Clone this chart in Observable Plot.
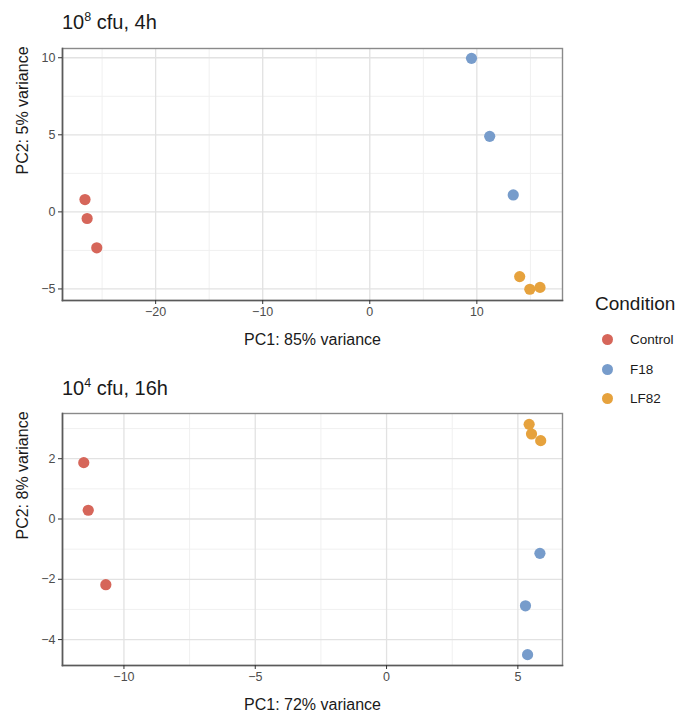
<!DOCTYPE html>
<html>
<head>
<meta charset="utf-8">
<script src="https://cdn.jsdelivr.net/npm/d3@7"></script>
<script src="https://cdn.jsdelivr.net/npm/@observablehq/plot@0.6"></script>
<style>
  html, body { margin: 0; padding: 0; background: #fff; }
  #root { position: relative; width: 691px; height: 720px; font-family: "Liberation Sans", Arial, Helvetica, sans-serif; color: #1a1a1a; }
  .title { position: absolute; left: 62px; font-size: 20px; line-height: 1; white-space: nowrap; }
  .title sup { font-size: 12.5px; vertical-align: 0; position: relative; top: -8px; }
  .panel { position: absolute; left: 0; }
  #legend { position: absolute; left: 595px; top: 293px; }
  #legend .lt { font-size: 19px; margin-bottom: 10px; }
  #legend .item { display: flex; align-items: center; height: 29.5px; font-size: 13.5px; }
  #legend .sw { width: 11px; height: 11px; border-radius: 50%; margin-left: 7px; margin-right: 17px; }
</style>
</head>
<body>
<div id="root"></div>
<script>
// ---- data ----
const conditions = ["Control", "F18", "LF82"];
const conditionColors = ["#d6665a", "#779ccb", "#e6a23d"];

// Panel 1: 10^8 cfu, 4h
const p1Condition = ["Control", "Control", "Control", "F18", "F18", "F18", "LF82", "LF82", "LF82"];
const p1PC1 = [-26.6, -26.4, -25.5, 9.5, 11.2, 13.4, 14.0, 14.95, 15.9];
const p1PC2 = [0.8, -0.43, -2.33, 9.96, 4.9, 1.1, -4.2, -5.02, -4.9];
const p1XTicks = [-20, -10, 0, 10];
const p1YTicks = [-5, 0, 5, 10];
const p1XMinor = [-25, -15, -5, 5, 15];
const p1YMinor = [-2.5, 2.5, 7.5];

// Panel 2: 10^4 cfu, 16h
const p2Condition = ["Control", "Control", "Control", "F18", "F18", "F18", "LF82", "LF82", "LF82"];
const p2PC1 = [-11.53, -11.36, -10.69, 5.84, 5.29, 5.37, 5.43, 5.52, 5.87];
const p2PC2 = [1.87, 0.29, -2.18, -1.14, -2.88, -4.5, 3.14, 2.82, 2.6];
const p2XTicks = [-10, -5, 0, 5];
const p2YTicks = [-4, -2, 0, 2];
const p2XMinor = [-7.5, -2.5, 2.5];
const p2YMinor = [-3, -1, 1, 3];

const font = '"Liberation Sans", Arial, Helvetica, sans-serif';

function panel(o) {
  const data = o.pc1.map((v, i) => ({pc1: v, pc2: o.pc2[i], condition: o.cond[i]}));
  return Plot.plot({
    width: 575, height: 318,
    marginTop: 8, marginBottom: 58, marginLeft: 62, marginRight: 13,
    style: {fontFamily: font, background: "transparent", overflow: "visible"},
    x: {domain: o.xDomain},
    y: {domain: o.yDomain},
    color: {domain: conditions, range: conditionColors},
    marks: [
      Plot.gridX(o.xMinor, {stroke: "#f0f0f0", strokeOpacity: 1, strokeWidth: 1}),
      Plot.gridY(o.yMinor, {stroke: "#f0f0f0", strokeOpacity: 1, strokeWidth: 1}),
      Plot.gridX(o.xTicks, {stroke: "#e2e2e2", strokeOpacity: 1, strokeWidth: 1.3}),
      Plot.gridY(o.yTicks, {stroke: "#e2e2e2", strokeOpacity: 1, strokeWidth: 1.3}),
      Plot.frame({stroke: "#8a8a8a", strokeWidth: 1.4}),
      Plot.frame({anchor: "left", stroke: "#5a5a5a", strokeWidth: 1.6}),
      Plot.frame({anchor: "bottom", stroke: "#5a5a5a", strokeWidth: 1.6}),
      Plot.axisX(o.xTicks, {tickSize: 4, tickPadding: 3, fontSize: 12.5, fill: "#4d4d4d", stroke: "#333", label: null}),
      Plot.axisY(o.yTicks, {tickSize: 4, tickPadding: 3, fontSize: 12.5, fill: "#4d4d4d", stroke: "#333", label: null}),
      Plot.text([o.xLabel], {frameAnchor: "bottom", dy: 44, fontSize: 16, fill: "#1a1a1a"}),
      Plot.text([o.yLabel], {frameAnchor: "left", dx: -40, rotate: -90, fontSize: 16, fill: "#1a1a1a"}),
      Plot.dot(data, {x: "pc1", y: "pc2", fill: "condition", r: 5.6, stroke: null})
    ]
  });
}

const root = document.getElementById("root");

function addTitle(base, exp, rest, top) {
  const t = document.createElement("div");
  t.className = "title";
  t.style.top = top + "px";
  t.innerHTML = base + "<sup>" + exp + "</sup> " + rest;
  root.appendChild(t);
}

addTitle("10", "8", "cfu, 4h", 12);
const svg1 = panel({
  pc1: p1PC1, pc2: p1PC2, cond: p1Condition,
  xDomain: [-28.7, 18.0], yDomain: [-5.75, 10.6],
  xTicks: p1XTicks, yTicks: p1YTicks, xMinor: p1XMinor, yMinor: p1YMinor,
  xLabel: "PC1: 85% variance", yLabel: "PC2: 5% variance"
});
svg1.classList.add("panel");
svg1.style.top = "40px";
root.appendChild(svg1);

addTitle("10", "4", "cfu, 16h", 378);
const svg2 = panel({
  pc1: p2PC1, pc2: p2PC2, cond: p2Condition,
  xDomain: [-12.34, 6.7], yDomain: [-4.86, 3.5],
  xTicks: p2XTicks, yTicks: p2YTicks, xMinor: p2XMinor, yMinor: p2YMinor,
  xLabel: "PC1: 72% variance", yLabel: "PC2: 8% variance"
});
svg2.classList.add("panel");
svg2.style.top = "405px";
root.appendChild(svg2);

// legend
const colorScale = d3.scaleOrdinal(conditions, conditionColors);
const legend = document.createElement("div");
legend.id = "legend";
const lt = document.createElement("div");
lt.className = "lt";
lt.textContent = "Condition";
legend.appendChild(lt);
conditions.forEach(c => {
  const it = document.createElement("div");
  it.className = "item";
  const sw = document.createElement("span");
  sw.className = "sw";
  sw.style.background = colorScale(c);
  const lb = document.createElement("span");
  lb.textContent = c;
  it.appendChild(sw);
  it.appendChild(lb);
  legend.appendChild(it);
});
root.appendChild(legend);
</script>
</body>
</html>
